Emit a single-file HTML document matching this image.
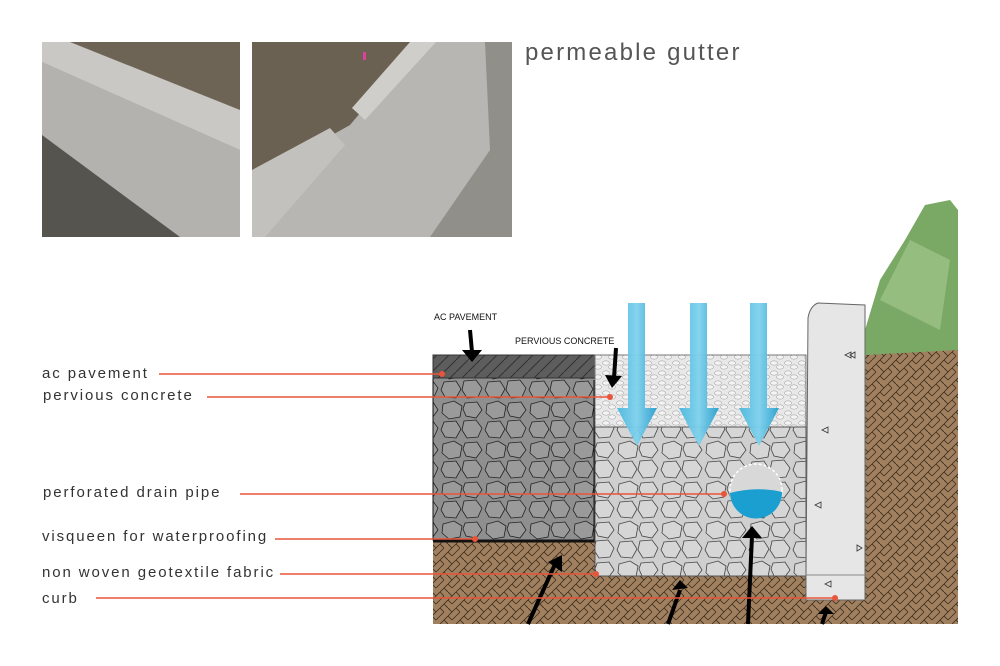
<!DOCTYPE html>
<html><head><meta charset="utf-8"><style>
html,body{margin:0;padding:0;background:#fff;width:1000px;height:666px;overflow:hidden}
svg{display:block}
text{font-family:"Liberation Sans",sans-serif}
</style></head><body>
<svg width="1000" height="666" viewBox="0 0 1000 666" xmlns="http://www.w3.org/2000/svg">
<defs>
<pattern id="herr" width="16" height="16" patternUnits="userSpaceOnUse">
<rect width="16" height="16" fill="#a0805f"/>
<path d="M0 8 L8 0 M4 12 L12 4 M8 16 L16 8 M0 0 L4 4 M12 12 L16 16 M8 0 L12 4 M0 8 L4 12" stroke="#3a2a1c" stroke-width="0.8" fill="none"/>
</pattern>
<pattern id="stoneD" width="44" height="40" patternUnits="userSpaceOnUse">
<rect width="44" height="40" fill="#8f8f8f"/>
<path d="M3 4 L14 1 L22 6 L20 17 L9 19 L2 13Z M25 3 L37 2 L42 10 L36 18 L26 16 L23 9Z M4 22 L16 21 L21 29 L16 38 L5 37 L1 30Z M24 21 L36 20 L42 28 L38 37 L27 38 L22 30Z" fill="#9a9a9a" stroke="#222" stroke-width="0.8"/>
</pattern>
<pattern id="stoneL" width="44" height="40" patternUnits="userSpaceOnUse">
<rect width="44" height="40" fill="#cfcfcf"/>
<path d="M3 4 L14 1 L22 6 L20 17 L9 19 L2 13Z M25 3 L37 2 L42 10 L36 18 L26 16 L23 9Z M4 22 L16 21 L21 29 L16 38 L5 37 L1 30Z M24 21 L36 20 L42 28 L38 37 L27 38 L22 30Z" fill="#d6d6d6" stroke="#444" stroke-width="0.8"/>
</pattern>
<pattern id="perv" width="14" height="10" patternUnits="userSpaceOnUse">
<rect width="14" height="10" fill="#e8e8e8"/>
<ellipse cx="4" cy="3" rx="3.5" ry="2.2" fill="#f4f4f4" stroke="#aaa" stroke-width="0.6"/>
<ellipse cx="10" cy="7" rx="3.5" ry="2.2" fill="#f4f4f4" stroke="#aaa" stroke-width="0.6"/>
</pattern>
<pattern id="hatch" width="12" height="12" patternUnits="userSpaceOnUse">
<rect width="12" height="12" fill="#5d5d5d"/>
<path d="M0 12 L12 0" stroke="#333" stroke-width="1"/>
</pattern>
<linearGradient id="water" x1="0" x2="1"><stop offset="0" stop-color="#4bb8dd"/><stop offset=".5" stop-color="#7fd2ee"/><stop offset="1" stop-color="#2a9fcc"/></linearGradient>
</defs>

<!-- photos -->
<rect x="42" y="42" width="198" height="195" fill="#a9a8a4"/>
<polygon points="42,42 240,42 240,110 42,45" fill="#6e6456"/>
<polygon points="42,42 70,42 240,110 240,150 42,62" fill="#c9c8c4"/>
<polygon points="42,62 240,150 240,237 42,237" fill="#b3b2ae"/>
<polygon points="42,135 180,237 42,237" fill="#56544f"/>
<rect x="252" y="42" width="260" height="195" fill="#b7b6b2"/>
<polygon points="252,42 420,42 350,125 252,180" fill="#6b6152"/>
<polygon points="410,42 436,42 365,120 352,108" fill="#cfcecb"/>
<polygon points="252,170 330,128 345,145 265,237 252,237" fill="#c2c1bd"/>
<polygon points="485,42 512,42 512,237 430,237 490,150" fill="#76746f" opacity=".6"/>
<rect x="363" y="52" width="3" height="8" fill="#e0409a"/>

<text x="525" y="60" font-size="24" fill="#555" letter-spacing="2.2">permeable gutter</text>

<!-- diagram -->
<polygon points="865,330 880,280 905,240 925,205 950,200 958,210 958,352 865,355" fill="#7aa865"/>
<polygon points="880,300 910,240 950,260 940,330" fill="#a3c68c" opacity=".7"/>
<rect x="433" y="540" width="525" height="84" fill="url(#herr)"/>
<polygon points="865,355 958,350 958,624 865,624" fill="url(#herr)"/>
<rect x="433" y="378" width="162" height="162" fill="url(#stoneD)" stroke="#111" stroke-width="1"/>
<path d="M595 380 L595 541 L433 541" stroke="#111" stroke-width="3" fill="none"/>
<rect x="433" y="355" width="162" height="23" fill="url(#hatch)" stroke="#333"/>
<rect x="595" y="355" width="211" height="72" fill="url(#perv)" stroke="#777"/>
<rect x="595" y="427" width="211" height="149" fill="url(#stoneL)" stroke="#555"/>
<path d="M806 575 L806 600 L865 600 L865 305 L818 303 Q810 306 808 318 Z" fill="#e6e6e6" stroke="#666"/>
<line x1="806" y1="575" x2="865" y2="575" stroke="#888"/>
<g fill="none" stroke="#333" stroke-width="0.8"><path d="M845 355 l6 -3 v6z M850 355 l5 -3 v6z M822 430 l6 -3 v6z M815 505 l6 -3 v6z M862 548 l-5 -3 v6z M825 584 l6 -3 v6z"/></g>
<!-- water arrows -->
<g fill="url(#water)" opacity=".95">
<polygon points="628,303 645,303 645,408 657,408 637,446 617,408 628,408"/>
<polygon points="690,303 707,303 707,408 719,408 699,446 679,408 690,408"/>
<polygon points="750,303 767,303 767,408 779,408 759,446 739,408 750,408"/>
</g>
<!-- pipe -->
<circle cx="756" cy="490" r="26" fill="#d8d8d8" stroke="#fff" stroke-width="1.5" stroke-dasharray="3 2"/>
<path d="M730 493 Q756 486 782 492 A26 26 0 0 1 730 493Z" fill="#1a9fd0"/>
<!-- black arrows -->
<g stroke="#000" stroke-width="4" fill="#000">
<line x1="470" y1="330" x2="472" y2="352"/><polygon points="462,350 482,350 472,362" stroke="none"/>
<line x1="616" y1="348" x2="614" y2="378"/><polygon points="605,375 622,376 612,388" stroke="none"/>
<line x1="528" y1="624" x2="556" y2="562"/><polygon points="548,562 562,555 562,572" stroke="none"/>
<line x1="668" y1="624" x2="680" y2="590"/><polygon points="672,590 688,588 680,580" stroke="none"/>
<line x1="748" y1="624" x2="752" y2="536"/><polygon points="742,538 762,538 752,526" stroke="none"/>
<line x1="822" y1="624" x2="826" y2="612"/><polygon points="818,614 834,614 826,606" stroke="none"/>
</g>
<text x="434" y="320" font-size="9" fill="#111">AC PAVEMENT</text>
<text x="515" y="344" font-size="9" fill="#111">PERVIOUS CONCRETE</text>

<!-- labels -->
<g font-size="15" fill="#333" letter-spacing="1.9">
<text x="42" y="378">ac pavement</text>
<text x="43" y="400">pervious concrete</text>
<text x="43" y="497">perforated drain pipe</text>
<text x="42" y="541">visqueen for waterproofing</text>
<text x="42" y="577">non woven geotextile fabric</text>
<text x="42" y="603">curb</text>
</g>
<g stroke="#e8553a" stroke-width="1.5">
<line x1="159" y1="374" x2="442" y2="374"/>
<line x1="207" y1="397" x2="610" y2="397"/>
<line x1="240" y1="494" x2="724" y2="494"/>
<line x1="275" y1="539" x2="475" y2="539"/>
<line x1="280" y1="574" x2="596" y2="574"/>
<line x1="96" y1="598" x2="835" y2="598"/>
</g>
<g fill="#e8553a">
<circle cx="442" cy="374" r="3"/><circle cx="610" cy="397" r="3"/><circle cx="724" cy="494" r="3"/>
<circle cx="475" cy="539" r="3"/><circle cx="596" cy="574" r="3"/><circle cx="835" cy="598" r="3"/>
</g>
</svg>
</body></html>
